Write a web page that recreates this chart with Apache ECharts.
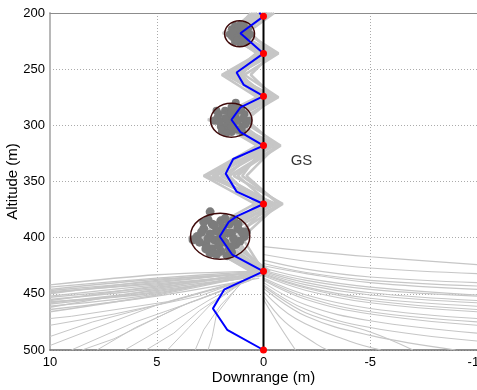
<!DOCTYPE html>
<html><head><meta charset="utf-8">
<script src="https://cdn.jsdelivr.net/npm/echarts@6/dist/echarts.min.js"></script>
<style>html,body{margin:0;padding:0;background:#fff}#c{width:477px;height:390px}</style>
</head><body><div id="c"></div>
<script>
// ---- data ----
var xTicks = [10, 5, 0, -5, -10];
var yTicks = [200, 250, 300, 350, 400, 450, 500];
// nominal (blue) trajectory: [downrange, altitude]
var nominalPath = [[0.2,200],[0,203],[1.08,218],[0,236],[1.26,253],[0.92,264],[0,274],[1.08,284],[1.5,295],[1.08,306],[0,318],[1.42,330],[1.77,343],[1.26,359],[0,370],[1.26,381],[1.63,386],[2.05,399],[1.47,415],[0,430],[1.83,446],[2.37,463],[1.7,482],[0,500]];
// waypoints on the glide slope
var waypointAlt = [203, 236, 274, 318, 370, 430, 500];
var glideSlope = [[0,200],[0,500]];
// dispersed trajectories, upper band (vertices at common altitudes)
var bandAlt = [200, 218, 236, 255, 275, 295, 318, 345, 370, 400, 430];
var bandX = [
  [0.3,1.9,0.2,1.95,0.3,2.4,0.3,2.8,0.4,3.3,0.6],
  [0.0,1.5,-0.2,1.7,0.0,2.0,-0.1,2.4,0.0,2.8,0.3],
  [-0.3,1.2,-0.5,1.3,-0.4,1.6,-0.5,2.0,-0.5,2.3,0.0],
  [-0.5,0.8,-0.7,0.9,-0.7,1.1,-0.8,1.4,-0.9,1.6,-0.2],
  [0.5,1.7,0.3,1.5,0.2,1.8,0.1,1.7,0.2,2.0,0.2],
  [0.1,1.0,-0.1,1.1,-0.2,1.3,-0.3,1.2,-0.3,1.3,0.1],
  [-0.1,1.4,0.1,1.8,-0.3,2.2,0.2,2.6,-0.2,3.0,0.4],
  [0.2,0.6,-0.4,0.6,-0.5,0.8,-0.6,0.8,-0.7,1.0,0.0],
  [0.4,1.3,0.0,1.4,0.1,1.5,0.0,2.2,0.1,2.5,-0.1],
  [-0.2,1.6,-0.3,1.2,-0.1,2.6,-0.2,1.9,-0.4,3.5,0.5],
  [0.1,1.8,-0.6,1.6,-0.6,2.1,-0.4,2.7,-0.6,2.9,0.2],
  [-0.4,1.1,0.2,1.0,0.1,1.9,-0.7,1.6,0.3,1.9,-0.3],
  [0.6,1.45,-0.45,1.35,-0.25,2.3,-0.35,2.35,-0.15,2.6,0.1],
  [-0.15,0.9,0.35,1.55,-0.55,1.45,-0.05,1.0,-0.8,2.15,-0.1]
];
// lower trajectories after the last waypoint
var fanLeft = [
  [[0.3,430],[5,433],[10,442]],[[0.2,432],[5,437],[10,446]],[[0.5,431],[5,440],[10,449]],
  [[0,433],[5,442],[10,452]],[[0.4,430],[5,445],[10,455]],[[0.1,434],[5,447],[10,458]],
  [[0.6,432],[5,450],[10,461]],[[0.2,436],[5,452],[10,464]],[[0.3,431],[5,439],[10,447]],
  [[0.5,433],[5,444],[10,453]],[[0.2,430],[5,436],[10,444]],[[0.4,434],[5,448],[10,459]],
  [[0.1,431],[5,438],[10,450]],[[0.3,432],[5,443],[10,456]],[[0.5,435],[5,446],[10,462]],
  [[0.2,433],[5,441],[10,448]],[[0.4,432],[5,449],[10,457]],[[0.6,434],[5,451],[10,466]]
];
var fanDown = [
  [[0.5,435],[3,452],[7,468],[10,478]],[[0.5,437],[3,455],[6,475],[9,500]],
  [[0.8,438],[2.5,455],[4.5,478],[6.5,500]],[[1,440],[2.5,460],[3.5,480],[4.5,500]],
  [[1,440],[2,460],[2.8,482],[3.2,500]],[[0.4,436],[4,455],[8,475],[10,488]],
  [[0.6,438],[3.5,458],[6,480],[7.8,500]],[[1.2,442],[3,465],[4.2,485],[5.5,500]],
  [[0.7,437],[5,460],[8.5,485],[10,496]],[[0.9,439],[4,462],[7,490],[8.5,500]],
  [[0.6,436],[4.5,457],[9,470],[10,472]],[[1.1,441],[2.2,468],[2.4,488],[2.6,500]]
];
var fanRight = [
  [[0,408],[-2,412],[-5,417],[-10,424]],[[0,415],[-2,421],[-5,427],[-10,432]],
  [[0,420],[-2,428],[-5,435],[-10,440]],[[0,425],[-2,432],[-5,440],[-10,446]],
  [[0,427],[-2,436],[-5,444],[-10,451]],[[0,430],[-2,440],[-5,449],[-10,456]],
  [[0,432],[-2,444],[-5,454],[-10,461]],[[0,434],[-2,447],[-5,458],[-10,466]],
  [[0,436],[-2,451],[-5,463],[-10,472]],[[0,438],[-2,455],[-5,468],[-10,478]],
  [[0,440],[-2,460],[-5,474],[-10,485]],[[0,442],[-2,464],[-5,480],[-10,492]],
  [[0,445],[-2,470],[-5,487],[-9,500]],[[0,448],[-1.5,472],[-4,492],[-5.5,500]],
  [[0,452],[-1,475],[-2.5,495],[-3,500]],[[0,455],[-0.8,480],[-1.5,500]],
  [[0,429],[-2,438],[-5,446],[-10,452]],[[0,433],[-2,445],[-5,456],[-10,464]],
  [[0,423],[-2,431],[-5,438],[-10,443]],[[0,431],[-2,442],[-5,451],[-10,458]],
  [[0,437],[-2,453],[-5,466],[-10,475]],[[0,443],[-2,467],[-5,484],[-7,500]]
];
// landing-point dispersion clouds
var cloud1 = [[1.12,218],[0.7,214],[1.5,214],[0.8,222],[1.4,223],[1.1,210],[1.1,227],[0.6,219],[1.6,219],[0.9,211],[1.35,211],[0.85,226],[1.35,226],[1.0,217],[1.25,220],[0.75,217],[1.5,221],[1.2,213],[0.95,215],[1.3,216],[1.0,223],[1.25,224],[1.45,217],[0.7,221]];
var cloud2 = [[1.5,295],[0.9,290],[2.1,290],[1.0,301],[2.0,301],[1.5,284],[1.5,306],[0.7,296],[2.3,296],[1.2,287],[1.8,287],[1.2,304],[1.8,304],[1.3,293],[1.7,298],[0.85,299],[2.15,293],[1.05,285.5],[1.95,305],[1.6,290],[1.4,300],[1.2,296],[1.8,294],[1.5,289],[1.5,301],[0.95,294],[2.05,297],[1.3,284.5],[1.75,307],[1.0,306],[2.2,287],[1.3,280]];
var cloud3 = [[2.0,399],[1.2,392],[2.8,392],[1.3,406],[2.7,406],[2.0,385],[2.0,412],[0.9,399],[3.1,399],[1.6,388],[2.4,388],[1.6,410],[2.4,410],[1.7,396],[2.3,402],[1.1,403],[2.9,395],[1.4,384.5],[2.6,384],[1.5,413],[2.5,414],[2.2,394],[1.8,404],[3.3,402],[0.8,395],[2.5,377],[1.5,396],[2.5,397],[1.9,391],[2.1,407],[1.4,401],[2.6,401],[1.8,383],[2.2,415],[1.0,395],[3.0,404],[1.7,416],[2.8,386],[1.2,388],[2.3,389],[1.5,408],[2.7,410],[1.9,397],[2.05,403]];
// confidence ellipses: [centerX, centerAlt, radiusX, radiusAlt]
var ellipses = [[1.12,218.4,0.7,11.6],[1.51,295.5,0.97,15.1],[2.03,398.7,1.39,20.5]];
var gsLabel = {text:'GS', x:-1.78, alt:331.7};

// ---- chart ----
var FONT = 'Liberation Sans, Arial, sans-serif';
var series = [];
var greyLine = function(data, w, smooth){
  return {type:'line', data:data, showSymbol:false, symbol:'none', smooth:smooth, silent:true, z:1,
    lineStyle:{color:'#c6c6c6', width:w}, animation:false};
};
bandX.forEach(function(row){
  series.push(greyLine(row.map(function(x,i){return [x, bandAlt[i]];}), 2.6, false));
});
fanLeft.forEach(function(d){ series.push(greyLine(d, 1.4, 0.3)); });
fanDown.forEach(function(d){ series.push(greyLine(d, 1, false)); });
fanRight.forEach(function(d){ series.push(greyLine(d, 1.1, 0.4)); });
[[cloud1,7],[cloud2,8],[cloud3,9]].forEach(function(c){
  series.push({type:'scatter', data:c[0], symbolSize:c[1], z:2, animation:false,
    itemStyle:{color:'#7c7c7c', opacity:1}});
});
series.push({type:'custom', data:ellipses, z:3, animation:false, encode:{x:0,y:1},
  renderItem:function(params, api){
    var c = api.coord([api.value(0), api.value(1)]);
    var s = api.size([api.value(2), api.value(3)]);
    return {type:'ellipse', shape:{cx:c[0], cy:c[1], rx:s[0], ry:s[1]},
      style:{fill:null, stroke:'#3f0a0a', lineWidth:1.5}};
  }});
series.push({type:'line', data:glideSlope, symbol:'none', z:4, animation:false,
  lineStyle:{color:'#000', width:2}});
series.push({type:'line', data:nominalPath, symbol:'none', z:5, animation:false,
  lineStyle:{color:'#0000ff', width:2}});
series.push({type:'scatter', data:waypointAlt.map(function(a){return [0,a];}), symbolSize:7, z:6, animation:false,
  itemStyle:{color:'#ff0000', opacity:1}});
series.push({type:'scatter', data:[[gsLabel.x, gsLabel.alt]], symbolSize:0, z:6, animation:false,
  label:{show:true, formatter:gsLabel.text, position:'inside', color:'#000', fontSize:15, fontFamily:FONT}});

var chart = echarts.init(document.getElementById('c'), null, {renderer:'canvas'});
chart.setOption({
  animation:false,
  backgroundColor:'#fff',
  grid:{left:50, right:0, top:13, bottom:40, containLabel:false, outerBoundsMode:'none'},
  xAxis:[{
    type:'value', min:-10, max:10, interval:5, inverse:true,
    name:'Downrange (m)', nameLocation:'middle', nameGap:20, nameMoveOverlap:false,
    nameTextStyle:{color:'#000', fontSize:15, fontFamily:FONT},
    axisLine:{show:true, onZero:false, lineStyle:{color:'#6e6e6e', width:1.5}},
    axisTick:{show:false},
    axisLabel:{color:'#000', fontSize:13, fontFamily:FONT, margin:6, hideOverlap:false,
      formatter:function(v){ return xTicks.indexOf(v) >= 0 ? String(v) : ''; }},
    splitLine:{show:true, lineStyle:{color:'#ababab', type:[1,2], width:1}}
  },{
    type:'value', min:-10, max:10, inverse:true, position:'top',
    axisLine:{show:true, onZero:false, lineStyle:{color:'#8c8c8c', width:1}},
    axisTick:{show:false}, axisLabel:{show:false}, splitLine:{show:false}
  }],
  yAxis:{
    type:'value', min:200, max:500, interval:50, inverse:true,
    name:'Altitude (m)', nameLocation:'middle', nameGap:30, nameRotate:90, nameMoveOverlap:false,
    nameTextStyle:{color:'#000', fontSize:15, fontFamily:FONT},
    axisLine:{show:true, onZero:false, lineStyle:{color:'#b8b8b8', width:2}},
    axisTick:{show:false},
    axisLabel:{color:'#000', fontSize:13, fontFamily:FONT, margin:5,
      formatter:function(v){ return yTicks.indexOf(v) >= 0 ? String(v) : ''; }},
    splitLine:{show:true, lineStyle:{color:'#ababab', type:[1,2], width:1}}
  },
  series:series
});
</script>
</body></html>
